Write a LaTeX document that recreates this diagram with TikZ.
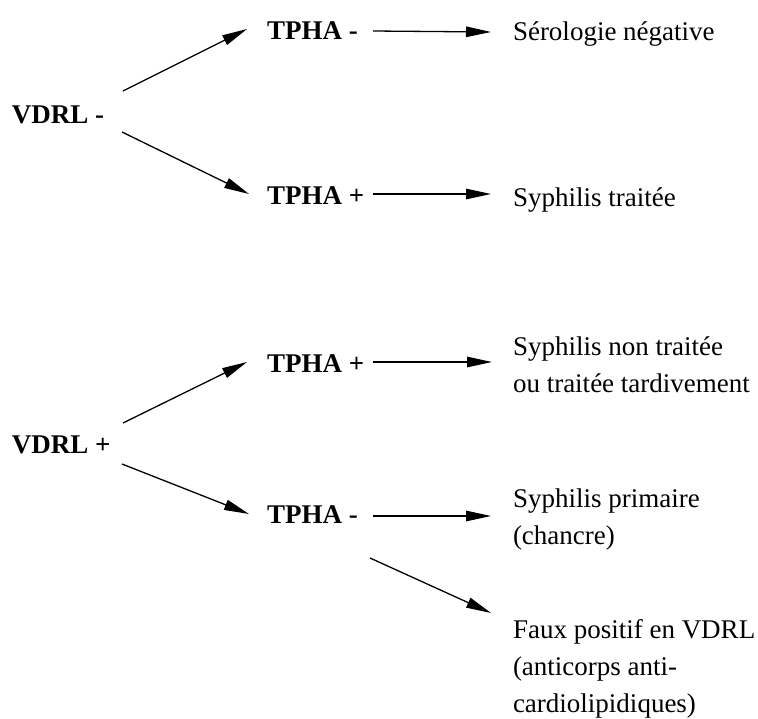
\documentclass[tikz,border=0pt]{standalone}
\usepackage{fontspec}
\setmainfont{Liberation Serif}
\usetikzlibrary{arrows.meta}
\begin{document}
\begin{tikzpicture}[x=1pt,y=-1pt,
  every node/.style={inner sep=0pt,outer sep=0pt,anchor=base west,font=\fontsize{27pt}{37pt}\selectfont},
  test/.style={font=\fontsize{27pt}{37pt}\selectfont\bfseries},
  result/.style={align=left},
  arr/.style={line width=1.3pt,-{Triangle[length=25pt,width=10.5pt]}}]
\useasboundingbox (0,0) rectangle (758,718);
% nodes
\node[test] (vm) at (12,123) {VDRL -};
\node[test] (t1) at (267,39) {TPHA -};
\node[test] (t2) at (267,204) {TPHA +};
\node (r1) at (513,40) {Sérologie négative};
\node (r2) at (513,206) {Syphilis traitée};
\node[test] (vp) at (12,453) {VDRL +};
\node[test] (t3) at (267,372) {TPHA +};
\node[test] (t4) at (267,523) {TPHA -};
\node[result] (r3) at (513,392) {Syphilis non traitée\\ou traitée tardivement};
\node[result] (r4) at (513,544) {Syphilis primaire\\(chancre)};
\node[result] (r5) at (513,712) {Faux positif en VDRL\\(anticorps anti-\\cardiolipidiques)};
% connectors
\draw[arr] ([shift={(111,-32)}]vm.base west) -- ([shift={(-20,-10)}]t1.base west);
\draw[arr] ([shift={(110,9)}]vm.base west) -- ([shift={(-18,-10)}]t2.base west);
\draw[arr] ([shift={(106,-8)}]t1.base west) -- ([shift={(-22,-8)}]r1.base west);
\draw[arr] ([shift={(106,-10)}]t2.base west) -- ([shift={(-22,-12)}]r2.base west);
\draw[arr] ([shift={(111,-30)}]vp.base west) -- ([shift={(-20,-10)}]t3.base west);
\draw[arr] ([shift={(110,11)}]vp.base west) -- ([shift={(-18,-9)}]t4.base west);
\draw[arr] ([shift={(106,-10)}]t3.base west) -- ([shift={(-21,-30)}]r3.base west);
\draw[arr] ([shift={(106,-7)}]t4.base west) -- ([shift={(-22,-28)}]r4.base west);
\draw[arr] ([shift={(103,35)}]t4.base west) -- ([shift={(-22,-99)}]r5.base west);
\end{tikzpicture}
\end{document}
